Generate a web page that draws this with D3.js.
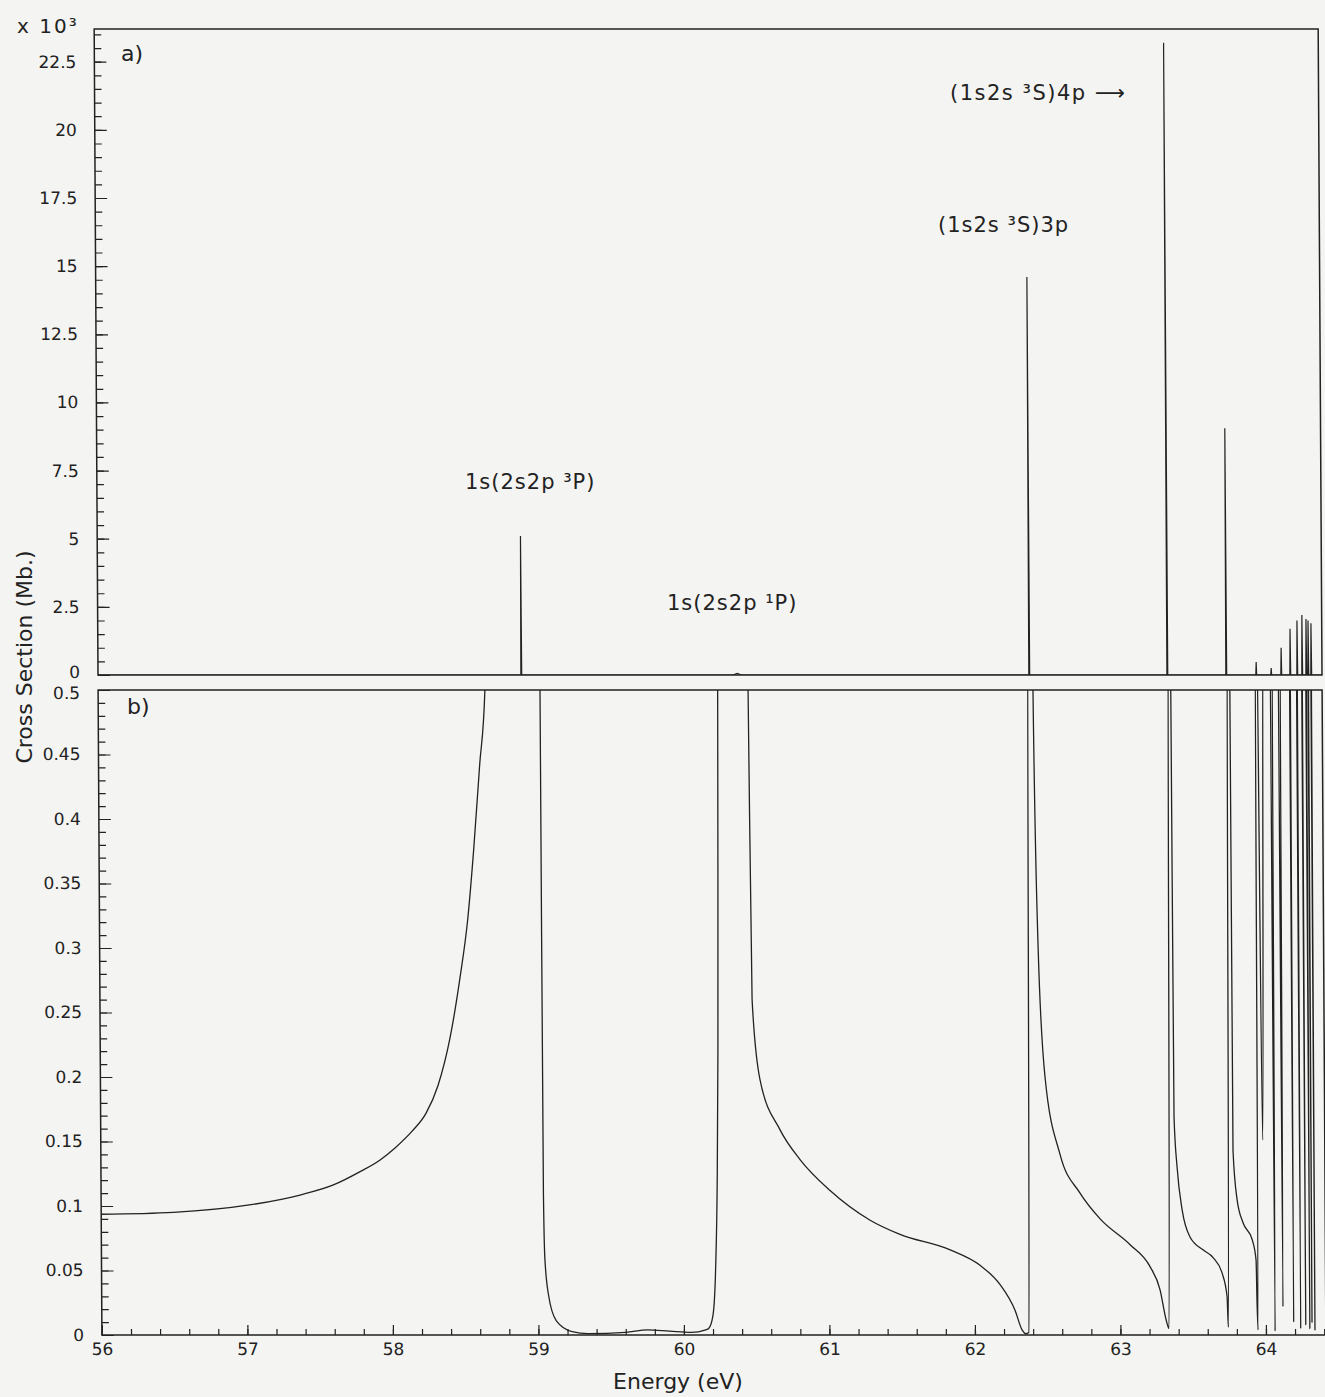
<!DOCTYPE html>
<html>
<head>
<meta charset="utf-8">
<script src="https://cdn.jsdelivr.net/npm/d3@7"></script>
<style>
body { margin: 0; background: #f4f4f2; }
svg { display: block; }
text { font-family: "DejaVu Sans", sans-serif; fill: #222; }
</style>
</head>
<body>
<svg id="chart"></svg>
<script>
//data
const energyTicks = [56, 57, 58, 59, 60, 61, 62, 63, 64];
const ticksA = [0, 2.5, 5, 7.5, 10, 12.5, 15, 17.5, 20, 22.5];
const ticksB = [0, 0.05, 0.1, 0.15, 0.2, 0.25, 0.3, 0.35, 0.4, 0.45, 0.5];

// panel a: resonance peaks [energy eV, cross section x10^3 Mb]
const peaksA = [
    [58.909, 5.1], [60.393, 0.06], [62.400, 14.6], [63.349, 23.2], [63.754, 9.05],
    [63.960, 0.48], [64.063, 0.26], [64.132, 1.0], [64.194, 1.7], [64.242, 2.0],
    [64.276, 2.2], [64.304, 2.05], [64.318, 2.0], [64.338, 1.9]
];

// panel b: cross section [energy eV, Mb] (values above 0.5 run off the frame)
const curveB = [
    [56.0, 0.0936], [56.496, 0.0951], [57.019, 0.1008], [57.367, 0.1085], [57.597, 0.1163],
    [57.781, 0.1266], [57.919, 0.1357], [58.022, 0.145], [58.14, 0.158], [58.237, 0.172],
    [58.320, 0.1934], [58.403, 0.2295], [58.474, 0.2759], [58.531, 0.3223], [58.574, 0.3753],
    [58.619, 0.4415], [58.658, 0.4995], [58.68, 0.6],
    [59.03, 0.6], [59.037, 0.5], [59.038, 0.309], [59.040, 0.110], [59.047, 0.060],
    [59.071, 0.031], [59.124, 0.011], [59.232, 0.0026], [59.341, 0.001], [59.6, 0.002],
    [59.75, 0.004], [59.9, 0.003], [60.05, 0.002], [60.15, 0.004],
    [60.17, 0.005], [60.2, 0.015], [60.22, 0.05], [60.235, 0.12], [60.245, 0.22],
    [60.252, 0.35], [60.258, 0.5], [60.262, 0.6],
    [60.46, 0.6], [60.467, 0.5], [60.482, 0.26], [60.533, 0.198], [60.669, 0.159],
    [60.805, 0.136], [61.010, 0.112], [61.284, 0.089], [61.489, 0.078], [61.833, 0.066],
    [62.038, 0.054], [62.175, 0.039], [62.277, 0.019], [62.324, 0.004], [62.351, 0.001],
    [62.37, 0.002],
    [62.395, 0.6], [62.42, 0.6], [62.425, 0.5], [62.450, 0.3], [62.492, 0.2],
    [62.592, 0.14], [62.728, 0.11], [62.865, 0.09], [63.070, 0.07], [63.206, 0.053],
    [63.274, 0.035], [63.314, 0.012], [63.334, 0.005],
    [63.36, 0.6], [63.37, 0.6], [63.372, 0.5], [63.377, 0.169], [63.396, 0.130],
    [63.429, 0.097], [63.482, 0.076], [63.571, 0.066], [63.640, 0.060], [63.701, 0.048],
    [63.734, 0.030], [63.742, 0.006],
    [63.765, 0.6], [63.775, 0.6], [63.778, 0.5], [63.781, 0.143], [63.807, 0.105],
    [63.847, 0.087], [63.909, 0.074], [63.935, 0.058], [63.940, 0.025], [63.946, 0.004],
    [63.955, 0.6], [63.962, 0.6], [63.985, 0.151], [64.012, 0.6],
    [64.055, 0.6], [64.063, 0.003], [64.071, 0.6],
    [64.11, 0.6], [64.118, 0.022], [64.126, 0.6],
    [64.188, 0.6], [64.191, 0.01], [64.195, 0.6],
    [64.236, 0.6], [64.239, 0.005], [64.243, 0.6],
    [64.272, 0.6], [64.274, 0.008], [64.277, 0.6],
    [64.300, 0.6], [64.302, 0.005], [64.305, 0.6],
    [64.315, 0.6], [64.317, 0.01], [64.319, 0.6],
    [64.335, 0.6], [64.337, 0.004], [64.339, 0.6], [64.42, 0.6]
];

//layout
const W = 1325, H = 1397;
const left = 94, right = 1318;
const panelA = {top: 29, bottom: 675};
const panelB = {top: 690, bottom: 1335};
const ink = "#222";

const svg = d3.select("#chart").attr("width", W).attr("height", H);
svg.append("rect").attr("width", W).attr("height", H).attr("fill", "#f4f4f2");

// the scanned figure leans slightly
const g = svg.append("g").attr("transform", "skewX(0.34)");

//scales
const x = d3.scaleLinear().domain([56, 64.412]).range([left, right]);
const yA = d3.scaleLinear().domain([0, 23.7]).range([panelA.bottom, panelA.top]);
const yB = d3.scaleLinear().domain([0, 0.5]).range([panelB.bottom, panelB.top]);

//clips
const defs = svg.append("defs");
[["clipA", panelA], ["clipB", panelB]].forEach(([id, p]) => {
    defs.append("clipPath").attr("id", id)
        .append("rect")
        .attr("x", left).attr("y", p.top)
        .attr("width", right - left).attr("height", p.bottom - p.top);
});

function styleAxis(a) {
    a.attr("color", ink)
        .attr("font-family", "DejaVu Sans")
        .attr("font-size", 17);
    a.select(".domain").remove();
    a.selectAll("line").attr("stroke-width", 1.2);
    a.selectAll("text").attr("fill", ink);
}

//y axes
function yAxis(scale, ticks, minorStep, max, nudge) {
    g.append("g")
        .attr("transform", `translate(${left},0)`)
        .call(d3.axisLeft(scale).tickValues(d3.range(0, max, minorStep)).tickSize(-7).tickFormat(""))
        .call(styleAxis);

    g.append("g")
        .attr("transform", `translate(${left},0)`)
        .call(d3.axisLeft(scale).tickValues(ticks).tickSize(-12).tickPadding(18).tickFormat(d => d))
        .call(styleAxis)
        .call(a => a.selectAll("text").attr("y", nudge));
}
// the 0 of panel a and the 0.5 of panel b sit close together
yAxis(yA, ticksA, 0.5, 23.7, d => d === 0 ? -3 : 0);
yAxis(yB, ticksB, 0.01, 0.5, d => d === 0.5 ? 3 : 0);

//x axis
g.append("g")
    .attr("transform", `translate(0,${panelB.bottom})`)
    .call(d3.axisBottom(x).tickValues(d3.range(56, 64.41, 0.2)).tickSize(-6).tickFormat(""))
    .call(styleAxis);

g.append("g")
    .attr("transform", `translate(0,${panelB.bottom})`)
    .call(d3.axisBottom(x).tickValues(energyTicks).tickSize(-10).tickPadding(8).tickFormat(d => d))
    .call(styleAxis);

//frames
[panelA, panelB].forEach(p => {
    g.append("rect")
        .attr("x", left).attr("y", p.top)
        .attr("width", right - left).attr("height", p.bottom - p.top)
        .attr("fill", "none")
        .attr("stroke", ink)
        .attr("stroke-width", 1.5);
});

//panel a peaks
let pathA = [[56, 0]];
peaksA.forEach(([e, h]) => {
    let w = h < 0.1 ? 0.03 : 0.003;
    pathA.push([e - w, 0], [e, h], [e + w, 0]);
});
pathA.push([64.412, 0]);

g.append("path")
    .datum(pathA)
    .attr("clip-path", "url(#clipA)")
    .attr("fill", "none")
    .attr("stroke", ink)
    .attr("stroke-width", 1.2)
    .attr("d", d3.line().x(d => x(d[0])).y(d => yA(d[1])));

//panel b curve
g.append("path")
    .datum(curveB)
    .attr("clip-path", "url(#clipB)")
    .attr("fill", "none")
    .attr("stroke", ink)
    .attr("stroke-width", 1.3)
    .attr("stroke-linejoin", "round")
    .attr("d", d3.line().curve(d3.curveMonotoneX).x(d => x(d[0])).y(d => yB(d[1])));

//labels
function label(t, px, py, size, spacing, anchor) {
    svg.append("text")
        .attr("x", px).attr("y", py)
        .attr("font-size", size)
        .attr("letter-spacing", spacing)
        .attr("text-anchor", anchor || "start")
        .text(t);
}
label("x 10³", 17, 33, 20, 2);
label("a)", 121, 61, 22, 0);
label("b)", 127, 714, 22, 0);
label("1s(2s2p ³P)", 465, 489, 21, 1);
label("1s(2s2p ¹P)", 667, 610, 21, 1);
label("(1s2s ³S)3p", 938, 232, 21, 1);
label("(1s2s ³S)4p ⟶", 950, 100, 21, 1.5);
label("Energy (eV)", 678, 1389, 22, 0, "middle");

svg.append("text")
    .attr("transform", "translate(32,657) rotate(-90)")
    .attr("font-size", 22)
    .attr("text-anchor", "middle")
    .text("Cross Section (Mb.)");
</script>
</body>
</html>
